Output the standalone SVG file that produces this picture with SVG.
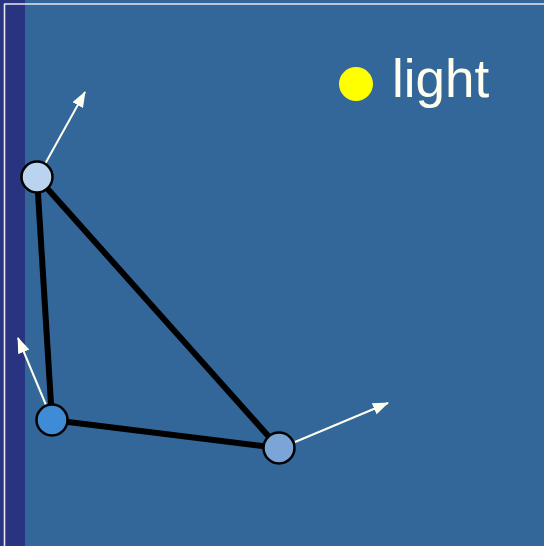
<svg xmlns="http://www.w3.org/2000/svg" width="544" height="546" viewBox="0 0 544 546">
<defs>
<style>
.edge{stroke:#000;stroke-width:6;stroke-linecap:round;fill:none}
.node{stroke:#000;stroke-width:2.5}
.normal{stroke:#FFFFF0;stroke-width:2;fill:none}
</style>
<marker id="ah" viewBox="0 0 16 12" refX="15" refY="6" markerWidth="16" markerHeight="12" markerUnits="userSpaceOnUse" orient="auto">
<path d="M0,0 L16,6 L0,12 z" fill="#FFFFF0"/>
</marker>
</defs>
<rect x="0" y="0" width="544" height="546" fill="#336699"/>
<rect x="0" y="0" width="25" height="546" fill="#28347F"/>
<line x1="4.5" y1="4" x2="4.5" y2="546" stroke="#E8E8F0" stroke-width="1.6"/>
<line x1="4" y1="4" x2="544" y2="4" stroke="#E8E8F0" stroke-width="1.6"/>
<g id="connectors">
<line class="edge" x1="37" y1="177" x2="52" y2="420"/>
<line class="edge" x1="37" y1="177" x2="279" y2="448"/>
<line class="edge" x1="52" y1="420" x2="279" y2="448"/>
<line class="normal" x1="45" y1="164" x2="85" y2="92" marker-end="url(#ah)"/>
<line class="normal" x1="46" y1="405" x2="18" y2="338" marker-end="url(#ah)"/>
<line class="normal" x1="295" y1="442" x2="388" y2="403" marker-end="url(#ah)"/>
</g>
<g id="node1"><circle class="node" cx="37" cy="177" r="15.5" fill="#BAD4F0"/></g>
<g id="node2"><circle class="node" cx="52" cy="420" r="15.5" fill="#3F8BD6"/></g>
<g id="node3"><circle class="node" cx="279" cy="448" r="15.5" fill="#7AA5D6"/></g>
<g id="light">
<circle cx="356" cy="84" r="17" fill="#FFFF00"/>
<text x="392" y="97" font-family="Liberation Sans, Arial, sans-serif" font-size="53" fill="#FFFFF0">light</text>
</g>
</svg>
